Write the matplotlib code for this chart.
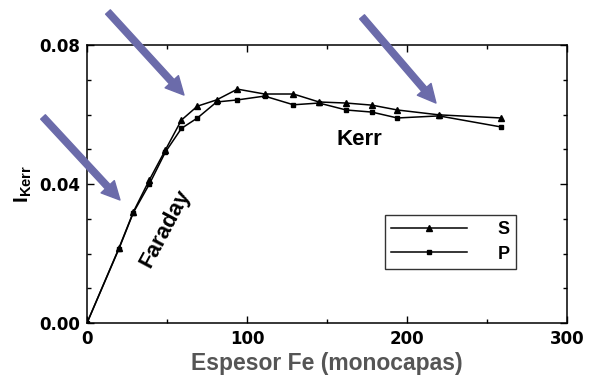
import matplotlib.pyplot as plt
from matplotlib.ticker import MultipleLocator

plt.rcParams['font.family'] = ['Liberation Sans', 'DejaVu Sans']
plt.rcParams['mathtext.fontset'] = 'custom'
plt.rcParams['mathtext.rm'] = 'Liberation Sans:bold'
plt.rcParams['mathtext.bf'] = 'Liberation Sans:bold'

# Kerr intensity vs Fe thickness, S and P polarisation
thick_s = [0, 20, 29, 39, 49, 59, 69, 81, 94, 111, 129, 145, 162, 178, 194, 220, 259]
kerr_s = [0.0, 0.0216, 0.0320, 0.0412, 0.0498, 0.0584, 0.0624, 0.0642, 0.0673,
          0.0659, 0.0659, 0.0636, 0.0633, 0.0627, 0.0613, 0.0599, 0.0590]
thick_p = [0, 20, 29, 39, 49, 59, 69, 81, 94, 111, 129, 145, 162, 178, 194, 220, 259]
kerr_p = [0.0, 0.0214, 0.0318, 0.0400, 0.0492, 0.0560, 0.0590, 0.0636, 0.0642,
          0.0653, 0.0628, 0.0633, 0.0613, 0.0607, 0.0590, 0.0596, 0.0564]

x_ticks = [0, 100, 200, 300]
x_labels = ['0', '100', '200', '300']
y_ticks = [0.0, 0.04, 0.08]
y_labels = ['0.00', '0.04', '0.08']

# arrows pointing at the regions of interest (tail, head) in data units
arrows = [((13.1, 0.0895), (60.6, 0.0656)),
          ((-27.5, 0.0593), (20.6, 0.0354)),
          ((171.9, 0.0881), (218.1, 0.0633))]

fig = plt.figure(figsize=(6.03, 3.86), dpi=100)
ax = fig.add_axes([0.1443, 0.1632, 0.7960, 0.7202])

ax.plot(thick_s, kerr_s, color='black', lw=1.1, marker='^', ms=5, label='S')
ax.plot(thick_p, kerr_p, color='black', lw=1.1, marker='s', ms=2.5, label='P')

ax.set_xlim(0, 300)
ax.set_ylim(0, 0.08)
tick_font = dict(family='DejaVu Sans', fontweight='bold', fontsize=12)
ax.set_xticks(x_ticks, x_labels, **tick_font)
ax.set_yticks(y_ticks, y_labels, **tick_font)
ax.xaxis.set_minor_locator(MultipleLocator(50))
ax.yaxis.set_minor_locator(MultipleLocator(0.01))
ax.tick_params(which='both', direction='in', top=True, right=True, width=1)
ax.tick_params(which='major', length=5, pad=5)
ax.tick_params(which='minor', length=3)
for sp in ax.spines.values():
    sp.set_linewidth(1.1)

ax.set_xlabel('Espesor Fe (monocapas)', fontsize=16.5, fontweight='bold',
              color='#555555', labelpad=3)
ax.set_ylabel(r'$\mathrm{I}_{\mathrm{Kerr}}$', fontsize=15, labelpad=4)

ax.text(170, 0.0527, 'Kerr', fontsize=16, fontweight='bold', ha='center', va='center')
ax.text(49, 0.0273, 'Faraday', fontsize=16, fontweight='bold', rotation=62,
        ha='center', va='center')

leg = ax.legend(loc='upper left', bbox_to_anchor=(0.621, 0.388), borderaxespad=0,
                frameon=True, fancybox=False, edgecolor='black', handlelength=4.2,
                prop={'weight': 'bold', 'size': 13}, borderpad=0.35,
                labelspacing=0.4, handletextpad=1.7)
leg.get_frame().set_linewidth(1.0)

for (x0, y0), (x1, y1) in arrows:
    ax.annotate('', xy=(x1, y1), xytext=(x0, y0), annotation_clip=False,
                arrowprops=dict(width=4.6, headwidth=13, headlength=13,
                                color='#6b6baa', shrink=0))

fig.savefig('out.png', dpi=100)
